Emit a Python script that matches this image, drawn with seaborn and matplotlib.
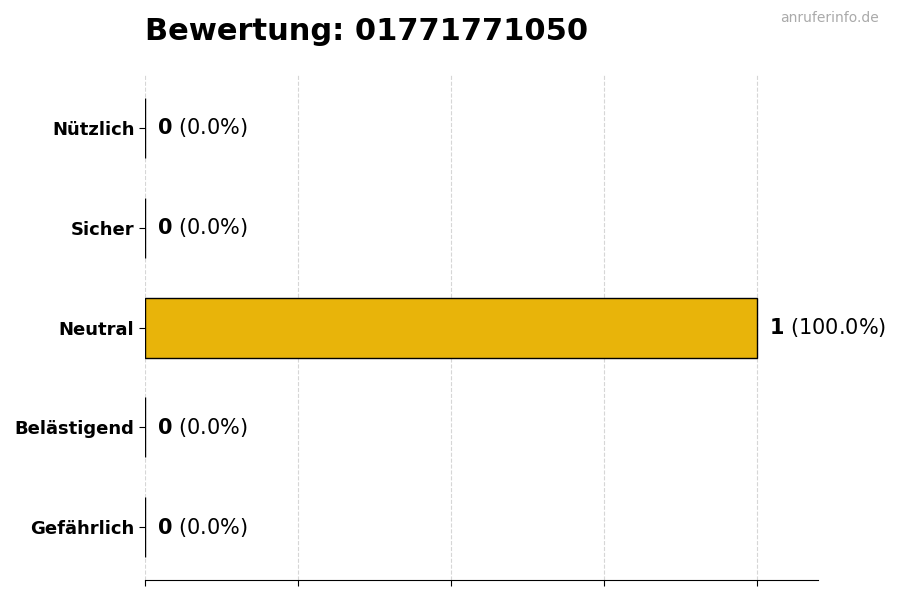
import matplotlib
matplotlib.use("Agg")
import matplotlib.pyplot as plt
import seaborn as sns

kategorien = ["Nützlich", "Sicher", "Neutral", "Belästigend", "Gefährlich"]
anzahl = [0, 0, 1, 0, 0]
nummer = "01771771050"

sns.set_style("white")
plt.rcParams["font.family"] = ["DejaVu Sans"]
plt.rcParams["mathtext.fontset"] = "dejavusans"
plt.rcParams["text.color"] = "black"
plt.rcParams["axes.labelcolor"] = "black"
plt.rcParams["xtick.color"] = "black"
plt.rcParams["ytick.color"] = "black"

gesamt = sum(anzahl)
anteile = [100.0 * a / gesamt if gesamt else 0.0 for a in anzahl]

fig, ax = plt.subplots(figsize=(9, 6), dpi=100)
fig.subplots_adjust(left=0.161, right=0.909, top=0.875, bottom=0.033)

sns.barplot(x=anzahl, y=kategorien, color="#E8B40A", edgecolor="black",
            linewidth=1, width=0.6, orient="h", ax=ax, saturation=1)

ax.set_xlim(0, max(anzahl) * 1.1)
ax.set_ylim(len(kategorien) - 0.47, -0.53)
ax.set_xticks([0, 0.25, 0.5, 0.75, 1.0])
ax.set_xticklabels([])
ax.set_xlabel("")
ax.set_ylabel("")
ax.set_axisbelow(True)
ax.grid(axis="x", linestyle="--", color="#cccccc", linewidth=0.8, alpha=0.8)
ax.grid(axis="y", visible=False)
ax.tick_params(axis="both", which="both", bottom=True, left=True, length=4, color="black")
for lbl in ax.get_yticklabels():
    lbl.set_fontweight("bold")
    lbl.set_fontsize(13)
    lbl.set_color("black")
sns.despine(ax=ax, left=True)
ax.spines["bottom"].set_color("black")

for i, (a, p) in enumerate(zip(anzahl, anteile)):
    ax.text(a + 0.02, i, rf"$\bf{{{a}}}$ ({p:.1f}%)", va="center", ha="left",
            fontsize=15, color="black")

ax.set_title(f"Bewertung: {nummer}", loc="left", fontsize=22, fontweight="bold",
             pad=25, color="black")
fig.text(0.976, 0.982, "anruferinfo.de", ha="right", va="top", fontsize=10, color="#aaaaaa")

fig.savefig("out.png", dpi=100)
